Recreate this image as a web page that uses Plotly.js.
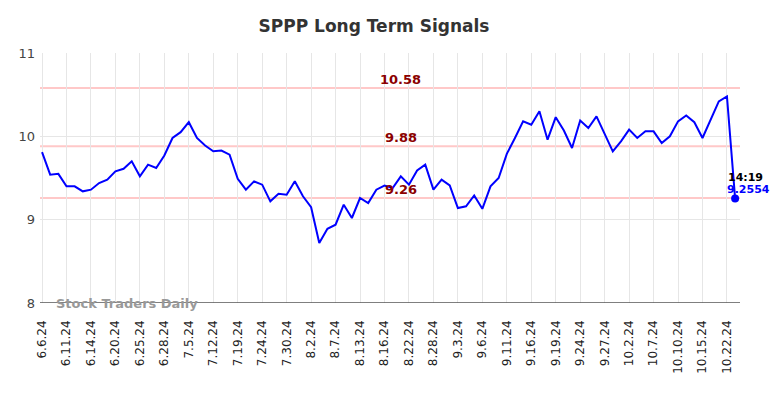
<!DOCTYPE html>
<html>
<head>
<meta charset="utf-8">
<script src="https://cdn.plot.ly/plotly-3.0.1.min.js"></script>
<style>html,body{margin:0;padding:0;background:#fff;}#chart{width:784px;height:398px;}</style>
</head>
<body>
<div id="chart"></div>
<script>
const dates = [
"6.6.24","6.7.24","6.10.24","6.11.24","6.12.24","6.13.24","6.14.24","6.17.24","6.18.24","6.20.24",
"6.21.24","6.24.24","6.25.24","6.26.24","6.27.24","6.28.24","7.1.24","7.2.24","7.5.24","7.9.24",
"7.11.24","7.12.24","7.15.24","7.17.24","7.19.24","7.22.24","7.23.24","7.24.24","7.25.24","7.29.24",
"7.30.24","7.31.24","8.1.24","8.2.24","8.5.24","8.6.24","8.7.24","8.8.24","8.12.24","8.13.24",
"8.14.24","8.15.24","8.16.24","8.19.24","8.21.24","8.22.24","8.23.24","8.27.24","8.28.24","8.29.24",
"8.30.24","9.3.24","9.4.24","9.5.24","9.6.24","9.9.24","9.10.24","9.11.24","9.12.24","9.13.24",
"9.16.24","9.17.24","9.18.24","9.19.24","9.20.24","9.23.24","9.24.24","9.25.24","9.26.24","9.27.24",
"9.30.24","10.1.24","10.2.24","10.3.24","10.4.24","10.7.24","10.8.24","10.9.24","10.10.24","10.11.24",
"10.14.24","10.15.24","10.17.24","10.21.24","10.22.24","10.23.24"
];
const prices = [
9.81,9.54,9.55,9.40,9.40,9.34,9.36,9.44,9.48,9.58,
9.61,9.70,9.52,9.66,9.62,9.77,9.98,10.05,10.17,9.98,
9.89,9.82,9.83,9.78,9.49,9.36,9.46,9.42,9.22,9.31,
9.30,9.46,9.28,9.15,8.72,8.89,8.94,9.18,9.02,9.26,
9.20,9.36,9.41,9.38,9.52,9.42,9.59,9.66,9.36,9.48,
9.41,9.14,9.16,9.29,9.13,9.40,9.50,9.79,9.98,10.18,
10.14,10.30,9.96,10.23,10.07,9.86,10.19,10.10,10.24,10.02,
9.82,9.94,10.08,9.98,10.06,10.06,9.92,10.00,10.18,10.25,
10.17,9.98,10.20,10.42,10.48,9.2554
];
const tickLabels = dates.filter((d, i) => i % 3 === 0 && i < dates.length - 1);
const levels = [10.58, 9.88, 9.26];
const levelLabels = ["10.58", "9.88", "9.26"];
const lastTime = "14:19";
const lastValue = "9.2554";

const n = dates.length;
const shapes = levels.map(v => ({
  type: "line", xref: "paper", x0: 0, x1: 1, yref: "y", y0: v, y1: v,
  line: {color: "rgba(255,190,190,0.85)", width: 2}, layer: "below"
}));
const annotations = levels.map((v, k) => ({
  x: 44, xref: "x", y: v, yref: "y", text: "<b>" + levelLabels[k] + "</b>",
  showarrow: false, yanchor: "bottom", yshift: -1,
  font: {family: "DejaVu Sans", size: 13, color: "#8b0000"}
}));
annotations.push({
  x: n - 1, xref: "x", y: prices[n - 1], yref: "y", text: "<b>" + lastTime + "</b>",
  showarrow: false, xanchor: "center", yanchor: "bottom", xshift: 10, yshift: 12,
  font: {family: "DejaVu Sans", size: 11, color: "#000"}
});
annotations.push({
  x: n - 1, xref: "x", y: prices[n - 1], yref: "y", text: "<b>" + lastValue + "</b>",
  showarrow: false, xanchor: "center", yanchor: "bottom", xshift: 13, yshift: 0,
  font: {family: "DejaVu Sans", size: 11, color: "#0000ff"}
});
annotations.push({
  x: 0.02, xref: "paper", y: 8, yref: "y", text: "<b>Stock Traders Daily</b>",
  showarrow: false, xanchor: "left", yanchor: "middle",
  font: {family: "DejaVu Sans", size: 13, color: "#999"}
});

const traces = [
  {x: dates, y: prices, type: "scatter", mode: "lines",
   line: {color: "#0000ff", width: 2}, hoverinfo: "skip"},
  {x: [dates[n - 1]], y: [prices[n - 1]], type: "scatter", mode: "markers",
   marker: {color: "#0000ff", size: 8}, hoverinfo: "skip"}
];

const layout = {
  width: 784, height: 398,
  margin: {l: 40, r: 44, t: 53, b: 95},
  paper_bgcolor: "#fff", plot_bgcolor: "#fff",
  showlegend: false,
  title: {text: "<b>SPPP Long Term Signals</b>", x: 0.477, xref: "container", y: 0.935, yanchor: "middle",
          font: {family: "DejaVu Sans", size: 17, color: "#333"}},
  xaxis: {type: "category", range: [-0.25, n - 0.4], tickmode: "array", tickvals: tickLabels, ticktext: tickLabels,
          tickangle: -90, tickfont: {family: "DejaVu Sans", size: 12, color: "#222"},
          ticklabelstandoff: 14,
          showgrid: true, gridcolor: "#e6e6e6", gridwidth: 1,
          showline: false, zeroline: false, ticks: ""},
  yaxis: {range: [8, 11], tickvals: [8, 9, 10, 11], ticktext: ["8", "9", "10", "11"],
          tickfont: {family: "DejaVu Sans", size: 13, color: "#444"},
          ticklabelstandoff: 4,
          showgrid: true, gridcolor: "#e6e6e6", gridwidth: 1, zeroline: false, ticks: "", ticklen: 0,
          showline: false},
  shapes: shapes.concat([{type: "line", xref: "paper", x0: 0, x1: 1, yref: "y", y0: 8, y1: 8,
          line: {color: "#555", width: 1.5}}]),
  annotations: annotations
};
Plotly.newPlot("chart", traces, layout, {staticPlot: true, displayModeBar: false});
</script>
</body>
</html>
